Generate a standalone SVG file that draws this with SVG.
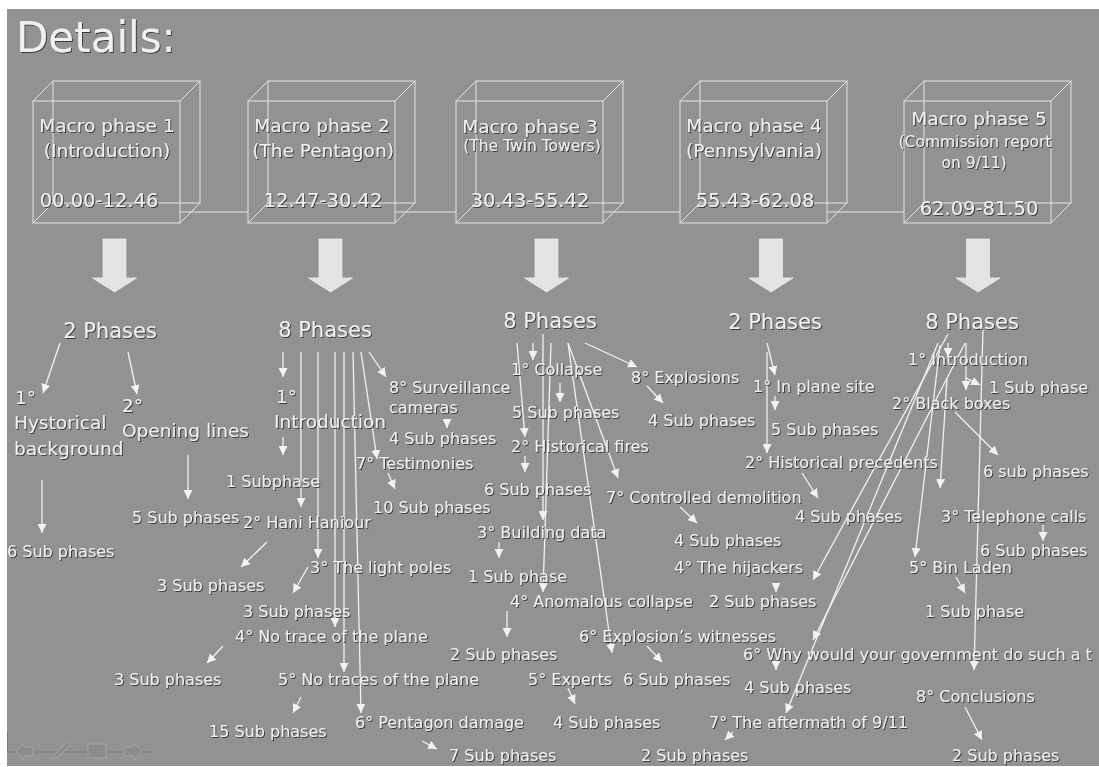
<svg xmlns="http://www.w3.org/2000/svg" width="1099" height="767" viewBox="0 0 1099 767">
<defs>
<style>
.t{font-family:"DejaVu Sans",Verdana,sans-serif;fill:#f0f0f0;filter:url(#sh)}
.s{font-size:16px}
.m{font-size:18.5px}
.p{font-size:21px}
.mid{text-anchor:middle}
.c{fill:none;stroke:#e4e4e4;stroke-width:1}
.ln{stroke:#f2f2f2;stroke-width:1.3;fill:none;marker-end:url(#ah)}
.big{fill:#e3e3e3;stroke:#ececec;stroke-width:0.8}
.nav{fill:#8c8c8c;stroke:#a4a4a4;stroke-width:1}
</style>
<filter id="sh" x="-5%" y="-20%" width="115%" height="150%">
<feDropShadow dx="1" dy="1" stdDeviation="0.3" flood-color="#333333" flood-opacity="0.9"/>
</filter>
<marker id="ah" markerUnits="userSpaceOnUse" markerWidth="9" markerHeight="9" viewBox="0 0 10 10" refX="10" refY="5" orient="auto">
<path d="M0,0 L10,5 L0,10 z" fill="#f2f2f2"/>
</marker>
<polygon id="bigarrow" points="-11.5,239 11.5,239 11.5,278 22,278 0,292 -22,278 -11.5,278"/>
</defs>
<rect x="0" y="0" width="1099" height="767" fill="#ffffff"/>
<rect x="7" y="9" width="1092" height="757" fill="#929292"/>

<g id="title"><text class="t" x="16" y="52" font-size="42" fill="#e6e6e6">Details:</text></g>

<g id="cube-links" class="c">
<line x1="180" y1="212" x2="248" y2="212"/>
<line x1="395" y1="212" x2="456" y2="212"/>
<line x1="603" y1="212" x2="680" y2="212"/>
<line x1="827" y1="212" x2="904" y2="212"/>
</g>

<g id="macro1">
<g class="c"><rect x="33" y="101" width="147" height="122"/><rect x="53" y="81" width="147" height="122"/>
<path d="M33,101 L53,81 M180,101 L200,81 M180,223 L200,203 M33,223 L53,203"/></g>
<text class="t m mid" x="107" y="132">Macro phase 1</text>
<text class="t m mid" x="107" y="157">(Introduction)</text>
<text class="t mid" font-size="19.5" x="99" y="207">00.00-12.46</text>
</g>
<g id="macro2">
<g class="c"><rect x="248" y="101" width="147" height="122"/><rect x="268" y="81" width="147" height="122"/>
<path d="M248,101 L268,81 M395,101 L415,81 M395,223 L415,203 M248,223 L268,203"/></g>
<text class="t m mid" x="322" y="132">Macro phase 2</text>
<text class="t m mid" x="323" y="157">(The Pentagon)</text>
<text class="t mid" font-size="19.5" x="323" y="207">12.47-30.42</text>
</g>
<g id="macro3">
<g class="c"><rect x="456" y="101" width="147" height="122"/><rect x="476" y="81" width="147" height="122"/>
<path d="M456,101 L476,81 M603,101 L623,81 M603,223 L623,203 M456,223 L476,203"/></g>
<text class="t m mid" x="530" y="133">Macro phase 3</text>
<text class="t mid" font-size="15.5" x="532" y="151">(The Twin Towers)</text>
<text class="t mid" font-size="19.5" x="530" y="207">30.43-55.42</text>
</g>
<g id="macro4">
<g class="c"><rect x="680" y="101" width="147" height="122"/><rect x="700" y="81" width="147" height="122"/>
<path d="M680,101 L700,81 M827,101 L847,81 M827,223 L847,203 M680,223 L700,203"/></g>
<text class="t m mid" x="754" y="132">Macro phase 4</text>
<text class="t m mid" x="754" y="157">(Pennsylvania)</text>
<text class="t mid" font-size="19.5" x="755" y="207">55.43-62.08</text>
</g>
<g id="macro5">
<g class="c"><rect x="904" y="101" width="147" height="122"/><rect x="924" y="81" width="147" height="122"/>
<path d="M904,101 L924,81 M1051,101 L1071,81 M1051,223 L1071,203 M904,223 L924,203"/></g>
<text class="t m mid" x="979" y="125">Macro phase 5</text>
<text class="t mid" font-size="15.5" x="975" y="147">(Commission report</text>
<text class="t mid" font-size="15.5" x="974" y="168">on 9/11)</text>
<text class="t mid" font-size="19.5" x="979" y="215">62.09-81.50</text>
</g>

<g id="big-arrows" class="big">
<use href="#bigarrow" x="114.5"/>
<use href="#bigarrow" x="330.5"/>
<use href="#bigarrow" x="546.5"/>
<use href="#bigarrow" x="771"/>
<use href="#bigarrow" x="978"/>
</g>

<g id="connectors">
<line class="ln" x1="60" y1="343" x2="43" y2="393"/>
<line class="ln" x1="128" y1="352" x2="137" y2="394"/>
<line class="ln" x1="42" y1="480" x2="42" y2="533"/>
<line class="ln" x1="188" y1="455" x2="188" y2="499"/>
<line class="ln" x1="283" y1="352" x2="283" y2="377"/>
<line class="ln" x1="283" y1="437" x2="283" y2="455"/>
<line class="ln" x1="301" y1="352" x2="301" y2="507"/>
<line class="ln" x1="267" y1="542" x2="241" y2="567"/>
<line class="ln" x1="318" y1="352" x2="318" y2="558"/>
<line class="ln" x1="308" y1="567" x2="293" y2="593"/>
<line class="ln" x1="335" y1="352" x2="335" y2="627"/>
<line class="ln" x1="223" y1="646" x2="207" y2="663"/>
<line class="ln" x1="344" y1="352" x2="344" y2="672"/>
<line class="ln" x1="301" y1="697" x2="293" y2="713"/>
<line class="ln" x1="353" y1="352" x2="361" y2="713"/>
<line class="ln" x1="422" y1="741" x2="437" y2="749"/>
<line class="ln" x1="361" y1="352" x2="377" y2="459"/>
<line class="ln" x1="388" y1="473" x2="395" y2="489"/>
<line class="ln" x1="369" y1="352" x2="386" y2="377"/>
<line class="ln" x1="447" y1="419" x2="447" y2="428"/>
<line class="ln" x1="533" y1="343" x2="533" y2="360"/>
<line class="ln" x1="560" y1="383" x2="560" y2="402"/>
<line class="ln" x1="517" y1="343" x2="525" y2="437"/>
<line class="ln" x1="525" y1="456" x2="525" y2="472"/>
<line class="ln" x1="543" y1="334" x2="543" y2="520"/>
<line class="ln" x1="499" y1="542" x2="499" y2="558"/>
<line class="ln" x1="551" y1="343" x2="543" y2="592"/>
<line class="ln" x1="507" y1="611" x2="507" y2="637"/>
<line class="ln" x1="568" y1="343" x2="612" y2="653"/>
<line class="ln" x1="568" y1="343" x2="618" y2="478"/>
<line class="ln" x1="680" y1="507" x2="697" y2="523"/>
<line class="ln" x1="585" y1="343" x2="637" y2="367"/>
<line class="ln" x1="647" y1="386" x2="663" y2="403"/>
<line class="ln" x1="647" y1="646" x2="662" y2="662"/>
<line class="ln" x1="568" y1="688" x2="575" y2="704"/>
<line class="ln" x1="767" y1="343" x2="775" y2="375"/>
<line class="ln" x1="775" y1="396" x2="775" y2="410"/>
<line class="ln" x1="767" y1="352" x2="767" y2="453"/>
<line class="ln" x1="802" y1="473" x2="818" y2="498"/>
<line class="ln" x1="948" y1="343" x2="948" y2="357"/>
<line class="ln" x1="966" y1="343" x2="966" y2="390"/>
<line class="ln" x1="966" y1="378" x2="980" y2="385"/>
<line class="ln" x1="955" y1="412" x2="998" y2="455"/>
<line class="ln" x1="947" y1="378" x2="940" y2="488"/>
<line class="ln" x1="1043" y1="525" x2="1043" y2="541"/>
<line class="ln" x1="940" y1="345" x2="915" y2="557"/>
<line class="ln" x1="956" y1="577" x2="965" y2="593"/>
<line class="ln" x1="948" y1="334" x2="813" y2="580"/>
<line class="ln" x1="965" y1="343" x2="813" y2="640"/>
<line class="ln" x1="938" y1="343" x2="786" y2="713"/>
<line class="ln" x1="983" y1="328" x2="974" y2="670"/>
<line class="ln" x1="965" y1="707" x2="982" y2="740"/>
<line class="ln" x1="776" y1="584" x2="776" y2="592"/>
<line class="ln" x1="776" y1="661" x2="776" y2="670"/>
<line class="ln" x1="733" y1="732" x2="725" y2="740"/>
</g>

<g id="phases1"><text class="t p mid" x="110" y="338">2 Phases</text></g>
<g id="phases2"><text class="t p mid" x="325" y="337">8 Phases</text></g>
<g id="phases3"><text class="t p mid" x="550" y="328">8 Phases</text></g>
<g id="phases4"><text class="t p mid" x="775" y="329">2 Phases</text></g>
<g id="phases5"><text class="t p mid" x="972" y="329">8 Phases</text></g>

<g id="c1-hist"><text class="t m" x="15" y="404">1°</text><text class="t m" x="14" y="429">Hystorical</text><text class="t m" x="14" y="455">background</text></g>
<g id="c1-open"><text class="t m" x="122" y="412">2°</text><text class="t m" x="122" y="437">Opening lines</text></g>
<g id="c1-sub1"><text class="t s" x="7" y="557">6 Sub phases</text></g>
<g id="c1-sub2"><text class="t s" x="132" y="523">5 Sub phases</text></g>

<g id="c2-intro"><text class="t m" x="276" y="403">1°</text><text class="t m" x="274" y="428">Introduction</text></g>
<g id="c2-intro-sub"><text class="t s" x="226" y="487">1 Subphase</text></g>
<g id="c2-surv"><text class="t s" x="389" y="393">8° Surveillance</text><text class="t s" x="389" y="413">cameras</text></g>
<g id="c2-surv-sub"><text class="t s" x="389" y="444">4 Sub phases</text></g>
<g id="c2-test"><text class="t s" x="356" y="469">7° Testimonies</text></g>
<g id="c2-test-sub"><text class="t s" x="373" y="513">10 Sub phases</text></g>
<g id="c2-hani"><text class="t s" x="243" y="528">2° Hani Haniour</text></g>
<g id="c2-hani-sub"><text class="t s" x="157" y="591">3 Sub phases</text></g>
<g id="c2-poles"><text class="t s" x="310" y="573">3° The light poles</text></g>
<g id="c2-poles-sub"><text class="t s" x="243" y="617">3 Sub phases</text></g>
<g id="c2-trace"><text class="t s" x="235" y="642">4° No trace of the plane</text></g>
<g id="c2-trace-sub"><text class="t s" x="114" y="685">3 Sub phases</text></g>
<g id="c2-traces"><text class="t s" x="278" y="685">5° No traces of the plane</text></g>
<g id="c2-traces-sub"><text class="t s" x="209" y="737">15 Sub phases</text></g>
<g id="c2-damage"><text class="t s" x="355" y="728">6° Pentagon damage</text></g>
<g id="c2-damage-sub"><text class="t s" x="449" y="761">7 Sub phases</text></g>

<g id="c3-collapse"><text class="t s" x="511" y="375">1° Collapse</text></g>
<g id="c3-collapse-sub"><text class="t s" x="512" y="418">5 Sub phases</text></g>
<g id="c3-fires"><text class="t s" x="511" y="452">2° Historical fires</text></g>
<g id="c3-fires-sub"><text class="t s" x="484" y="495">6 Sub phases</text></g>
<g id="c3-building"><text class="t s" x="477" y="538">3° Building data</text></g>
<g id="c3-building-sub"><text class="t s" x="468" y="582">1 Sub phase</text></g>
<g id="c3-anomalous"><text class="t s" x="510" y="607">4° Anomalous collapse</text></g>
<g id="c3-anomalous-sub"><text class="t s" x="450" y="660">2 Sub phases</text></g>
<g id="c3-witnesses"><text class="t s" x="579" y="642">6° Explosion’s witnesses</text></g>
<g id="c3-witnesses-sub"><text class="t s" x="623" y="685">6 Sub phases</text></g>
<g id="c3-experts"><text class="t s" x="528" y="685">5° Experts</text></g>
<g id="c3-experts-sub"><text class="t s" x="553" y="728">4 Sub phases</text></g>
<g id="c3-explosions"><text class="t s" x="631" y="383">8° Explosions</text></g>
<g id="c3-explosions-sub"><text class="t s" x="648" y="426">4 Sub phases</text></g>
<g id="c3-demolition"><text class="t s" x="606" y="503">7° Controlled demolition</text></g>
<g id="c3-demolition-sub"><text class="t s" x="674" y="546">4 Sub phases</text></g>

<g id="c4-site"><text class="t s" x="753" y="392">1° In plane site</text></g>
<g id="c4-site-sub"><text class="t s" x="771" y="435">5 Sub phases</text></g>
<g id="c4-prec"><text class="t s" x="745" y="468">2° Historical precedents</text></g>
<g id="c4-prec-sub"><text class="t s" x="795" y="522">4 Sub phases</text></g>

<g id="c5-intro"><text class="t s" x="908" y="365">1° Introduction</text></g>
<g id="c5-intro-sub"><text class="t s" x="989" y="393">1 Sub phase</text></g>
<g id="c5-boxes"><text class="t s" x="892" y="409">2° Black boxes</text></g>
<g id="c5-boxes-sub"><text class="t s" x="983" y="477">6 sub phases</text></g>
<g id="c5-calls"><text class="t s" x="941" y="522">3° Telephone calls</text></g>
<g id="c5-calls-sub"><text class="t s" x="980" y="556">6 Sub phases</text></g>
<g id="c5-hijackers"><text class="t s" x="674" y="573">4° The hijackers</text></g>
<g id="c5-hijackers-sub"><text class="t s" x="709" y="607">2 Sub phases</text></g>
<g id="c5-binladen"><text class="t s" x="909" y="573">5° Bin Laden</text></g>
<g id="c5-binladen-sub"><text class="t s" x="925" y="617">1 Sub phase</text></g>
<g id="c5-why"><text class="t s" x="743" y="660">6° Why would your government do such a t</text></g>
<g id="c5-why-sub"><text class="t s" x="744" y="693">4 Sub phases</text></g>
<g id="c5-aftermath"><text class="t s" x="709" y="728">7° The aftermath of 9/11</text></g>
<g id="c5-aftermath-sub"><text class="t s" x="641" y="761">2 Sub phases</text></g>
<g id="c5-concl"><text class="t s" x="916" y="702">8° Conclusions</text></g>
<g id="c5-concl-sub"><text class="t s" x="952" y="761">2 Sub phases</text></g>

<g id="nav">
<path d="M7.5,732 V752 H152" fill="none" stroke="#787878" stroke-width="1"/>
<path class="nav" d="M16,751 L24,743 V747 H33 V756 H24 V760 Z"/>
<path class="nav" d="M52,759 L55,754 L67,742 L70,745 L58,757 Z"/>
<rect class="nav" x="88" y="744" width="18" height="14" rx="1"/>
<path class="nav" d="M142,751 L134,743 V747 H124 V756 H134 V760 Z"/>
</g>
</svg>
